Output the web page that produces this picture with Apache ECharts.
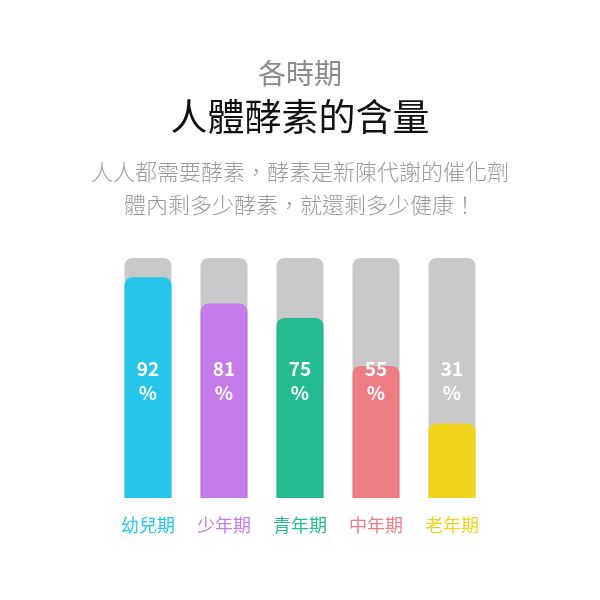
<!DOCTYPE html>
<html>
<head>
<meta charset="utf-8">
<script src="https://cdn.jsdelivr.net/npm/echarts@6/dist/echarts.min.js"></script>
<style>
  html, body { margin: 0; padding: 0; background: #fff; }
  #main { width: 600px; height: 600px; }
</style>
</head>
<body>
<div id="main"></div>
<script>
// data
var periods = ['幼兒期', '少年期', '青年期', '中年期', '老年期'];
var enzyme = [92, 81, 75, 55, 31];
var colors = ['#26C6EA', '#C57BEA', '#23BB8F', '#EE7C85', '#F2D31B'];
var full = [100, 100, 100, 100, 100];

var font = '"Noto Sans CJK TC", "Noto Sans", sans-serif';

var chart = echarts.init(document.getElementById('main'));

var subStyle = { fontFamily: font, fontSize: 22, fontWeight: 300, color: '#9a9a9a' };

var option = {
  backgroundColor: '#fff',
  textStyle: { fontFamily: font },
  title: [
    {
      text: '各時期',
      left: 'center', top: 54,
      textStyle: { fontFamily: font, fontSize: 28, fontWeight: 'normal', color: '#8a8a8a' }
    },
    {
      text: '人體酵素的含量',
      left: 'center', top: 93,
      textStyle: { fontFamily: font, fontSize: 37, fontWeight: 'normal', color: '#111' }
    },
    { text: '人人都需要酵素，酵素是新陳代謝的催化劑', left: 'center', top: 156, textStyle: subStyle },
    { text: '體內剩多少酵素，就還剩多少健康！', left: 'center', top: 189, textStyle: subStyle }
  ],
  grid: { left: 110, right: 110, top: 258, bottom: 102 },
  xAxis: {
    type: 'category',
    data: periods,
    axisLine: { show: false },
    axisTick: { show: false },
    axisLabel: {
      margin: 18,
      fontFamily: font,
      fontSize: 18,
      color: function (v, i) { return colors[i]; }
    }
  },
  yAxis: { type: 'value', min: 0, max: 100, show: false },
  series: [
    {
      // gray background
      type: 'bar',
      data: full,
      barWidth: 47,
      barGap: '-100%',
      silent: true,
      itemStyle: { color: '#C9C9C9', borderRadius: [8, 8, 0, 0] }
    },
    {
      type: 'bar',
      data: enzyme.map(function (v, i) {
        return { value: v, itemStyle: { color: colors[i] } };
      }),
      barWidth: 47,
      barGap: '-100%',
      itemStyle: { borderRadius: [8, 8, 0, 0] }
    },
    {
      // percentage labels, centered on the full column
      type: 'bar',
      data: full,
      barWidth: 47,
      barGap: '-100%',
      silent: true,
      itemStyle: { color: 'rgba(0,0,0,0)' },
      label: {
        show: true,
        position: 'inside',
        offset: [0, 3],
        formatter: function (p) { return enzyme[p.dataIndex] + '\n%'; },
        fontFamily: font,
        fontSize: 19,
        fontWeight: 'bold',
        lineHeight: 24,
        color: '#fff'
      }
    }
  ]
};

chart.setOption(option);
</script>
</body>
</html>
